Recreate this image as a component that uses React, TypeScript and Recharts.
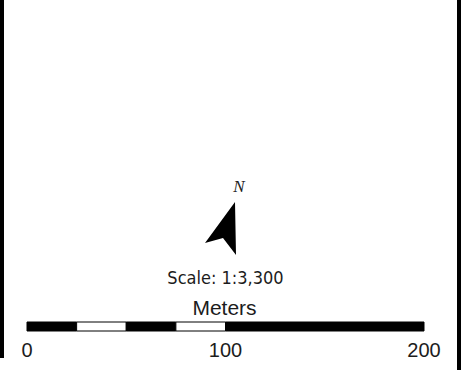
import { BarChart, Bar, XAxis, YAxis } from 'recharts'

// scale bar: one category, segments between these break values (meters)
const categories = ['Meters']
const breaks = [0, 25, 50, 75, 100, 200]
const segmentFills = ['#000000', '#ffffff', '#000000', '#ffffff', '#000000']
const tickValues = [0, 100, 200]
const scaleText = 'Scale: 1:3,300'
const unitText = 'Meters'
const northText = 'N'

const row: Record<string, string | number> = { name: categories[0] }
breaks.slice(1).forEach((b, i) => {
  row[`seg${i}`] = b - breaks[i]
})
const data = [row]

const W = 475
const H = 370
const MID = 225.5
const TEXT = '#1c1c1c'

// north arrow outline (decoration, not data)
const arrowPoints = '235,202 236,255 223,238 205,243'

export default function App() {
  return (
    <div style={{ width: W, height: H, background: '#fff' }}>
      <style>{'body{margin:0}'}</style>
      <BarChart
        layout="vertical"
        width={W}
        height={H}
        data={data}
        margin={{ top: 312, right: 51, left: 27, bottom: 4 }}
      >
        <XAxis
          type="number"
          domain={[0, 200]}
          ticks={tickValues}
          interval={0}
          axisLine={false}
          tickLine={false}
          tickSize={0}
          tickMargin={2}
          height={25}
          tick={{ fill: TEXT, fontSize: 20, fontFamily: 'Liberation Sans' }}
        />
        <YAxis type="category" dataKey="name" hide width={0} />
        {segmentFills.map((fill, i) => (
          <Bar
            key={i}
            dataKey={`seg${i}`}
            stackId="bar"
            fill={fill}
            stroke="#000000"
            strokeWidth={1}
            barSize={9}
            isAnimationActive={false}
          />
        ))}

        {/* map frame */}
        <rect x={0} y={0} width={4} height={358} fill="#000" />
        <rect x={457} y={0} width={4} height={370} fill="#000" />

        {/* north arrow */}
        <polygon points={arrowPoints} fill="#000" />
        <text
          x={239}
          y={192}
          textAnchor="middle"
          fontFamily="Liberation Serif"
          fontStyle="italic"
          fontSize={17}
          fill={TEXT}
        >
          {northText}
        </text>

        <text
          x={MID}
          y={284}
          textAnchor="middle"
          fontFamily="DejaVu Sans Condensed"
          fontSize={18}
          fill={TEXT}
        >
          {scaleText}
        </text>
        <text
          x={MID - 1}
          y={315}
          textAnchor="middle"
          fontFamily="Liberation Sans"
          fontSize={21}
          fill={TEXT}
        >
          {unitText}
        </text>
      </BarChart>
    </div>
  )
}
